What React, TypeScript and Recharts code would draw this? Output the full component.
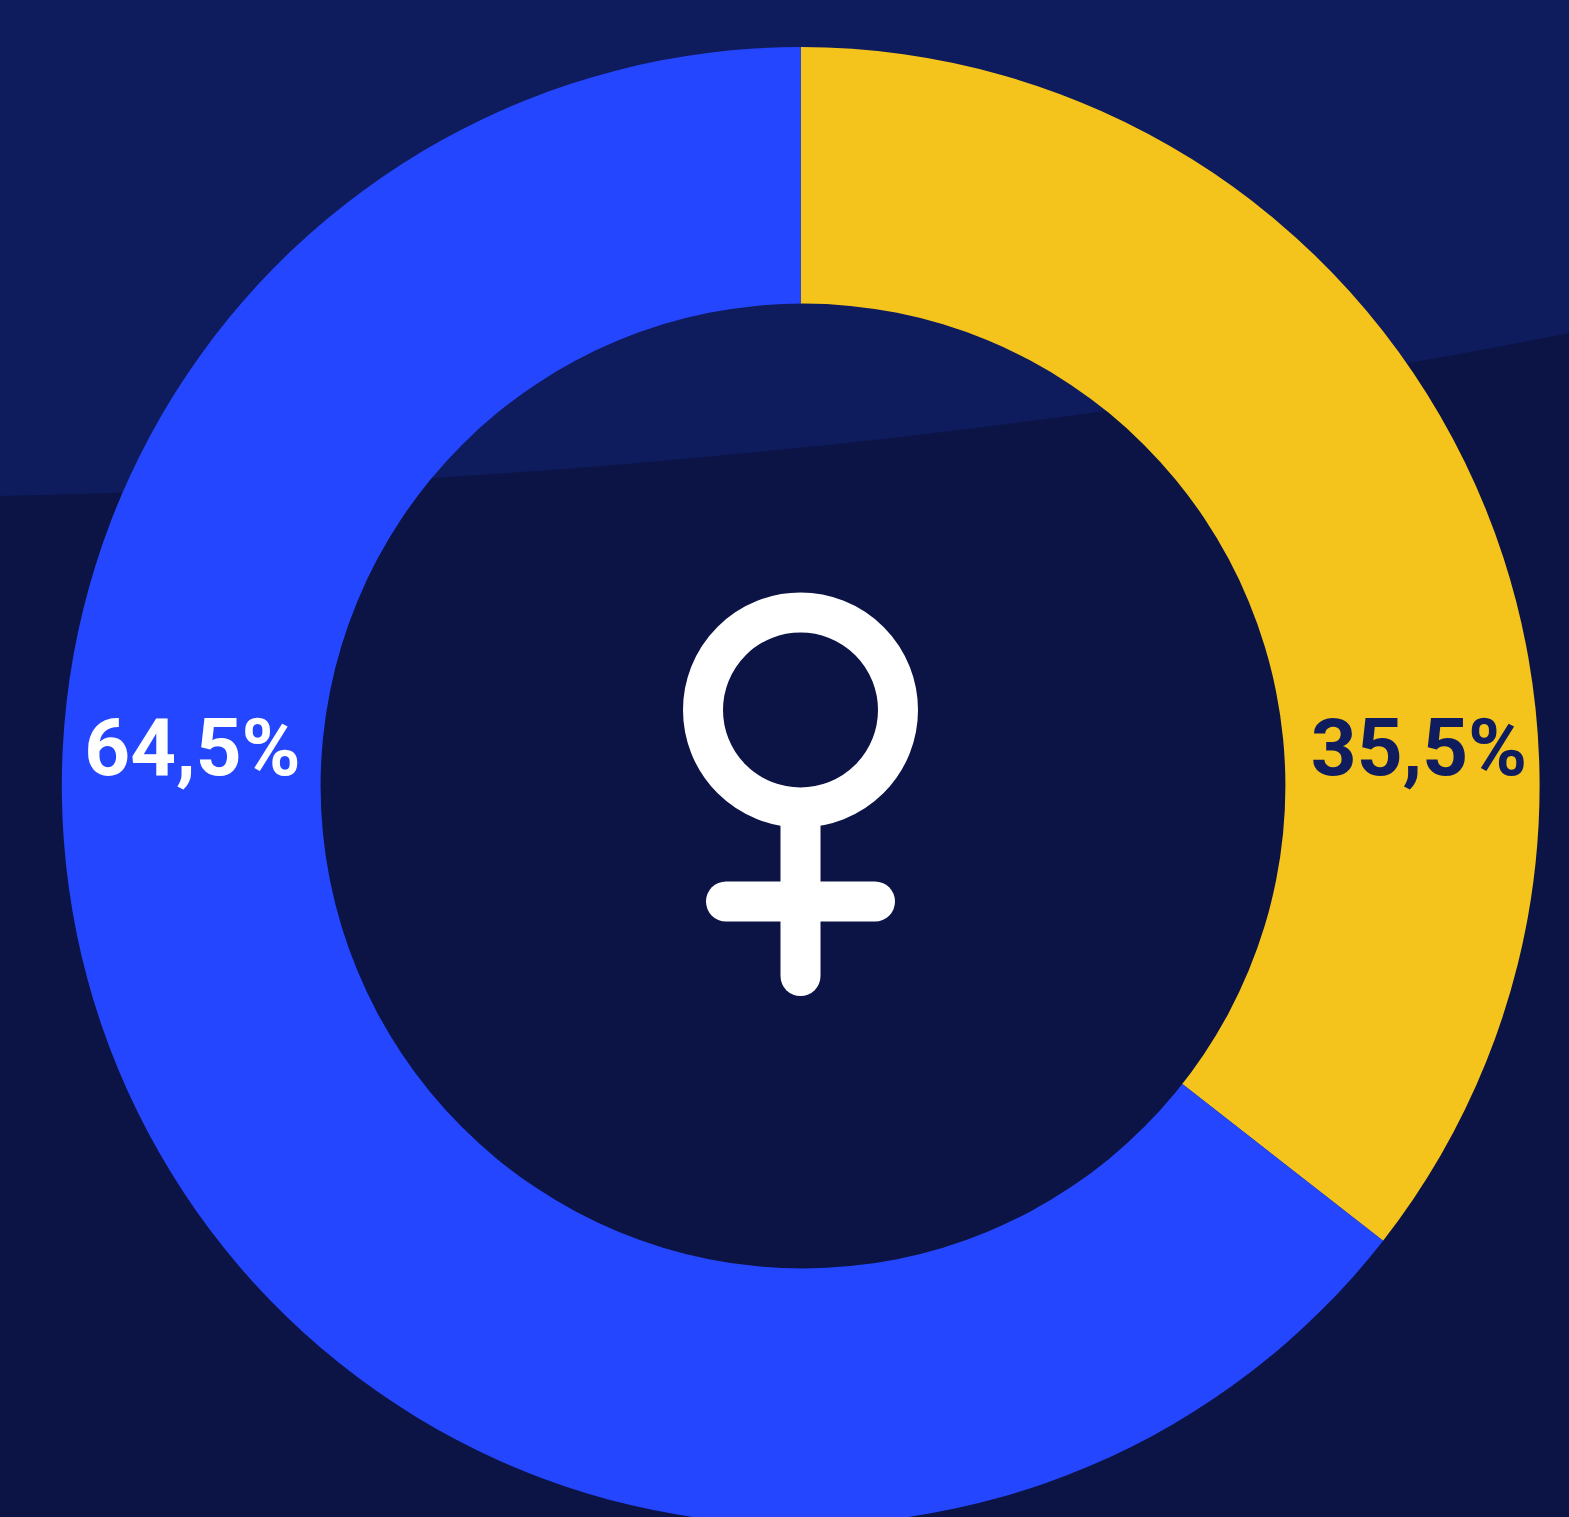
import { PieChart, Pie, Cell } from "recharts";

const WIDTH = 1569;
const HEIGHT = 1517;

const categories = ["Frauen", "Männer"];
const shares = [35.55, 64.45];
const shareLabels = ["35,5%", "64,5%"];
const sliceColors = ["#f4c31c", "#2546ff"];
const labelColors = ["#0f1c5e", "#ffffff"];

const chartData = categories.map((name, i) => ({ name, value: shares[i] }));

const CX = 800.7;
const CY = 786;
const OUTER = 738.9;

// the hole is not quite concentric with the ring, so it gets cut out with a clip path
const HOLE_X = 803;
const HOLE_Y = 786;
const HOLE_R = 482.4;
const holeClip = `path(evenodd, "M0 0H${WIDTH}V${HEIGHT}H0Z M${HOLE_X - HOLE_R} ${HOLE_Y}a${HOLE_R} ${HOLE_R} 0 1 0 ${2 * HOLE_R} 0a${HOLE_R} ${HOLE_R} 0 1 0 ${-2 * HOLE_R} 0Z")`;

const LABEL_X = [1419, 192.5];
const LABEL_BASELINE = 775;

function renderLabel({ index }: { index: number }) {
  return (
    <text
      key={index}
      x={LABEL_X[index]}
      y={LABEL_BASELINE}
      textAnchor="middle"
      fill={labelColors[index]}
      fontFamily="Roboto"
      fontWeight={700}
      fontSize={80}
    >
      {shareLabels[index]}
    </text>
  );
}

export default function App() {
  return (
    <div
      style={{
        position: "fixed",
        left: 0,
        top: 0,
        width: WIDTH,
        height: HEIGHT,
        overflow: "hidden",
        background: "#0c1445",
      }}
    >
      <svg width={WIDTH} height={HEIGHT} style={{ position: "absolute", left: 0, top: 0 }}>
        <path d="M0 0H1569V333C1046 437 523 485 0 496Z" fill="#0e1b5c" />
      </svg>
      <div style={{ position: "absolute", left: 0, top: 0, clipPath: holeClip }}>
        <PieChart width={WIDTH} height={HEIGHT} margin={{ top: 0, right: 0, bottom: 0, left: 0 }}>
          <Pie
            data={chartData}
            dataKey="value"
            nameKey="name"
            cx={CX}
            cy={CY}
            innerRadius={470}
            outerRadius={OUTER}
            startAngle={90}
            endAngle={-270}
            stroke="none"
            labelLine={false}
            label={renderLabel}
            isAnimationActive={false}
          >
            {chartData.map((d, i) => (
              <Cell key={d.name} fill={sliceColors[i]} />
            ))}
          </Pie>
        </PieChart>
      </div>
      <svg width={WIDTH} height={HEIGHT} style={{ position: "absolute", left: 0, top: 0 }}>
        <g fill="none" stroke="#ffffff" strokeWidth={40} strokeLinecap="round">
          <circle cx={800.5} cy={710} r={97.5} />
          <path d="M800.5 810V976" />
          <path d="M726 901.5H875" />
        </g>
      </svg>
    </div>
  );
}
